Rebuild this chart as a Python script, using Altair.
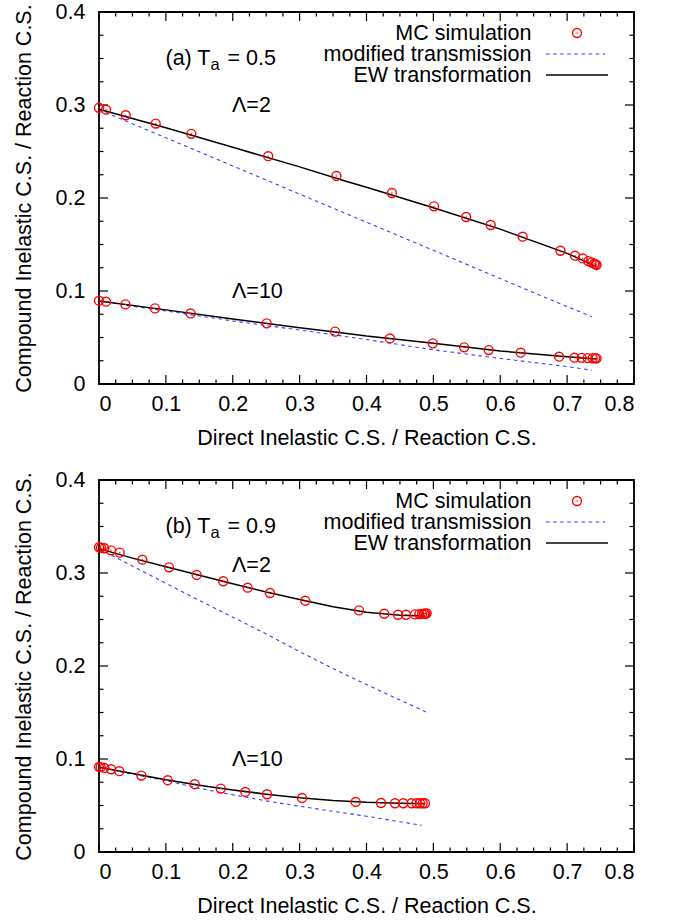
import altair as alt
import pandas as pd

FONT = "Liberation Sans"
FS = 21.5

W, H = 535, 372

# ---------------- panel (a): T_a = 0.5 ----------------
a_mc2_x = [0.0, 0.0105, 0.040, 0.0848, 0.138, 0.253, 0.355, 0.438, 0.501, 0.549,
           0.5857, 0.6335, 0.690, 0.7118, 0.7233, 0.7317, 0.7366, 0.7405, 0.7425, 0.744]
a_mc2_y = [0.297, 0.295, 0.289, 0.280, 0.269, 0.245, 0.2237, 0.2054, 0.191, 0.1796,
           0.171, 0.1584, 0.1433, 0.138, 0.135, 0.1322, 0.1308, 0.1294, 0.1287, 0.128]
a_mc10_x = [0.0, 0.0105, 0.0395, 0.0837, 0.137, 0.2507, 0.353, 0.435, 0.499, 0.546,
            0.5827, 0.6305, 0.688, 0.711, 0.7217, 0.7307, 0.7382, 0.742, 0.744]
a_mc10_y = [0.0896, 0.0885, 0.0856, 0.0813, 0.0759, 0.0652, 0.0563, 0.049, 0.0437, 0.0394,
            0.0365, 0.0337, 0.0294, 0.0283, 0.0281, 0.0278, 0.0277, 0.0276, 0.0276]

a_ew2_x = [0.0, 0.1, 0.2, 0.3, 0.368, 0.4, 0.5, 0.6, 0.7, 0.744]
a_ew2_y = [0.2955, 0.2755, 0.2545, 0.2335, 0.2183, 0.2115, 0.1895, 0.1665, 0.1405, 0.1262]
a_ew10_x = [0.0, 0.1, 0.2, 0.3, 0.353, 0.4, 0.5, 0.6, 0.7, 0.744]
a_ew10_y = [0.0893, 0.0797, 0.0698, 0.0605, 0.0560, 0.0515, 0.0437, 0.0355, 0.0293, 0.0270]

a_mt2_x = [0.0, 0.1, 0.2, 0.3, 0.4, 0.5, 0.6, 0.7, 0.737]
a_mt2_y = [0.295, 0.2648, 0.2345, 0.2042, 0.174, 0.1437, 0.1134, 0.0832, 0.0724]
a_mt10_x = [0.0, 0.1, 0.2, 0.3, 0.353, 0.4, 0.5, 0.6, 0.7, 0.737]
a_mt10_y = [0.089, 0.0785, 0.0678, 0.058, 0.0527, 0.0478, 0.0368, 0.0275, 0.0188, 0.0148]

# ---------------- panel (b): T_a = 0.9 ----------------
b_mc2_x = [0.0, 0.003, 0.008, 0.018, 0.031, 0.0648, 0.1047, 0.146, 0.1858, 0.2223,
           0.2557, 0.3084, 0.3888, 0.4266, 0.4471, 0.4591, 0.4725, 0.479, 0.483, 0.486,
           0.488, 0.490]
b_mc2_y = [0.3277, 0.3272, 0.3266, 0.3244, 0.3219, 0.3143, 0.3061, 0.2979, 0.2911, 0.2842,
           0.2785, 0.2702, 0.2598, 0.2562, 0.2551, 0.2551, 0.2555, 0.2558, 0.2560, 0.2562,
           0.2564, 0.2566]
b_mc10_x = [0.0, 0.0025, 0.008, 0.018, 0.0304, 0.0633, 0.1027, 0.1431, 0.182, 0.2188,
            0.2512, 0.3036, 0.3838, 0.4217, 0.4426, 0.455, 0.4675, 0.475, 0.480, 0.484,
            0.4875]
b_mc10_y = [0.0915, 0.0912, 0.0904, 0.089, 0.0869, 0.0822, 0.0772, 0.0729, 0.0682, 0.0646,
            0.0621, 0.0581, 0.0538, 0.0527, 0.0524, 0.0524, 0.0524, 0.0524, 0.0524, 0.0524,
            0.0524]

b_ew2_x = [0.0, 0.05, 0.1, 0.15, 0.2, 0.25, 0.3, 0.35, 0.4, 0.45, 0.4875]
b_ew2_y = [0.3262, 0.316, 0.3068, 0.2975, 0.2885, 0.2795, 0.2715, 0.2637, 0.2578, 0.2545, 0.2537]
b_ew10_x = [0.0, 0.05, 0.1, 0.15, 0.2, 0.25, 0.3, 0.35, 0.4, 0.45, 0.487]
b_ew10_y = [0.0912, 0.0843, 0.0776, 0.0718, 0.0667, 0.0622, 0.0584, 0.0555, 0.0535, 0.0524, 0.0520]

b_mt2_x = [0.0, 0.05, 0.1, 0.15, 0.2, 0.25, 0.3, 0.35, 0.4, 0.45, 0.489]
b_mt2_y = [0.326, 0.3075, 0.289, 0.2705, 0.2525, 0.2345, 0.2155, 0.1972, 0.180, 0.1635, 0.1505]
b_mt10_x = [0.0, 0.05, 0.1, 0.15, 0.2, 0.25, 0.3, 0.35, 0.4, 0.45, 0.4825]
b_mt10_y = [0.091, 0.0838, 0.0768, 0.0684, 0.0615, 0.0550, 0.0492, 0.0437, 0.0385, 0.0325, 0.0287]

# ---------------- texts and ticks ----------------
legend_labels = ["MC simulation", "modified transmission", "EW transformation"]
curve_labels = ["\u039b=2", "\u039b=10"]
panel_tags = ["(a) T", "(b) T"]
panel_values = ["= 0.5", "= 0.9"]
x_title = "Direct Inelastic C.S. / Reaction C.S."
y_title = "Compound Inelastic C.S. / Reaction C.S."

x_major = [0.0, 0.1, 0.2, 0.3, 0.4, 0.5, 0.6, 0.7, 0.8]
y_major = [0.0, 0.1, 0.2, 0.3, 0.4]
x_minor = [i * 0.025 for i in range(33) if i % 4]
y_minor = [i * 0.025 for i in range(17) if i % 4]

RED = "#ff0000"
BLUE = "#3a3aff"

xs = alt.Scale(domain=[0, 0.8], nice=False, zero=False)
ys = alt.Scale(domain=[0, 0.4], nice=False, zero=False)
x_axis = alt.Axis(values=x_major, format=".1~f", title=x_title, labelPadding=9,
                  titlePadding=13)
y_axis = alt.Axis(values=y_major, format=".1~f", title=y_title, labelPadding=14,
                  titlePadding=20)


def X(field):
    return alt.X(field, type="quantitative", scale=xs, axis=x_axis)


def Y(field):
    return alt.Y(field, type="quantitative", scale=ys, axis=y_axis)


def tick_layers():
    layers = []
    for vals, ln in ((x_major, 9), (x_minor, 4.5)):
        d = pd.DataFrame({"x": vals})
        base = alt.Chart(d).mark_rule(color="black", strokeWidth=1.2)
        layers.append(base.encode(x=X("x"), y=alt.value(H), y2=alt.value(H - ln)))
        layers.append(base.encode(x=X("x"), y=alt.value(0), y2=alt.value(ln)))
    for vals, ln in ((y_major, 9), (y_minor, 4.5)):
        d = pd.DataFrame({"y": vals})
        base = alt.Chart(d).mark_rule(color="black", strokeWidth=1.2)
        layers.append(base.encode(y=Y("y"), x=alt.value(0), x2=alt.value(ln)))
        layers.append(base.encode(y=Y("y"), x=alt.value(W), x2=alt.value(W - ln)))
    return layers


def label(text, x, y, size=FS, align="left"):
    d = pd.DataFrame({"t": [text]})
    return alt.Chart(d).mark_text(font=FONT, fontSize=size, align=align,
                                  baseline="alphabetic", color="black").encode(
        text="t:N", x=alt.value(x), y=alt.value(y))


def panel(idx, mc2, mc10, ew2, ew10, mt2, mt10, lab2_y, lab10_y):
    def series(pairs):
        rows = []
        for k, (xv, yv) in enumerate(pairs):
            for a, b in zip(xv, yv):
                rows.append({"x": a, "y": b, "s": k})
        return pd.DataFrame(rows)

    mc = series([mc2, mc10])
    ew = series([ew2, ew10])
    mt = series([mt2, mt10])

    layers = tick_layers()
    layers.append(alt.Chart(mt).mark_line(color=BLUE, strokeWidth=1.1,
                                          strokeDash=[3.5, 3.6]).encode(
        x=X("x"), y=Y("y"), detail="s:N"))
    layers.append(alt.Chart(ew).mark_line(color="black", strokeWidth=1.5).encode(
        x=X("x"), y=Y("y"), detail="s:N"))
    layers.append(alt.Chart(mc).mark_point(shape="circle", filled=False, color=RED,
                                           size=80, strokeWidth=1.4, opacity=1).encode(
        x=X("x"), y=Y("y")))
    layers.append(alt.Chart(mc).mark_point(shape="circle", filled=True, color=RED,
                                           size=2, opacity=1, strokeWidth=0).encode(
        x=X("x"), y=Y("y")))

    # key, gnuplot style: text right-aligned, sample to the right
    rows_y = [21, 42, 63]
    for lbl, ry in zip(legend_labels, rows_y):
        layers.append(label(lbl, 432.5, ry + 7, align="right"))
    key_pt = pd.DataFrame({"t": [legend_labels[0]]})
    layers.append(alt.Chart(key_pt).mark_point(shape="circle", filled=False, color=RED,
                                               size=80, strokeWidth=1.4, opacity=1).encode(
        x=alt.value(478), y=alt.value(rows_y[0])))
    layers.append(alt.Chart(key_pt).mark_point(shape="circle", filled=True, color=RED,
                                               size=2, strokeWidth=0, opacity=1).encode(
        x=alt.value(478), y=alt.value(rows_y[0])))
    key_mt = pd.DataFrame({"t": [legend_labels[1]]})
    layers.append(alt.Chart(key_mt).mark_rule(color=BLUE, strokeWidth=1.1,
                                              strokeDash=[3.5, 3.6]).encode(
        x=alt.value(447), x2=alt.value(506), y=alt.value(rows_y[1])))
    key_ew = pd.DataFrame({"t": [legend_labels[2]]})
    layers.append(alt.Chart(key_ew).mark_rule(color="black", strokeWidth=1.5).encode(
        x=alt.value(447), x2=alt.value(509), y=alt.value(rows_y[2])))

    # panel tag with subscript
    layers.append(label(panel_tags[idx], 66.5, 52.5))
    layers.append(label("a", 111.5, 57.5, size=16.5))
    layers.append(label(panel_values[idx], 128.5, 52.5))
    layers.append(label(curve_labels[0], 133, lab2_y))
    layers.append(label(curve_labels[1], 133, lab10_y))

    return alt.layer(*layers).properties(width=W, height=H)


top = panel(0, (a_mc2_x, a_mc2_y), (a_mc10_x, a_mc10_y), (a_ew2_x, a_ew2_y),
            (a_ew10_x, a_ew10_y), (a_mt2_x, a_mt2_y), (a_mt10_x, a_mt10_y), 100, 286)
bottom = panel(1, (b_mc2_x, b_mc2_y), (b_mc10_x, b_mc10_y), (b_ew2_x, b_ew2_y),
               (b_ew10_x, b_ew10_y), (b_mt2_x, b_mt2_y), (b_mt10_x, b_mt10_y), 92, 286)

chart = alt.vconcat(top, bottom, spacing=18).properties(
    padding={"left": 12, "top": 0, "right": 0, "bottom": 0},
    background="white",
).configure_view(
    stroke="black", strokeWidth=1.8
).configure_axis(
    ticks=False, domain=False, grid=False,
    labelFont=FONT, labelFontSize=FS, labelColor="black",
    titleFont=FONT, titleFontSize=FS, titleFontWeight="normal", titleColor="black",
)

chart.save("out.html", embed_options={"renderer": "svg", "actions": False})
